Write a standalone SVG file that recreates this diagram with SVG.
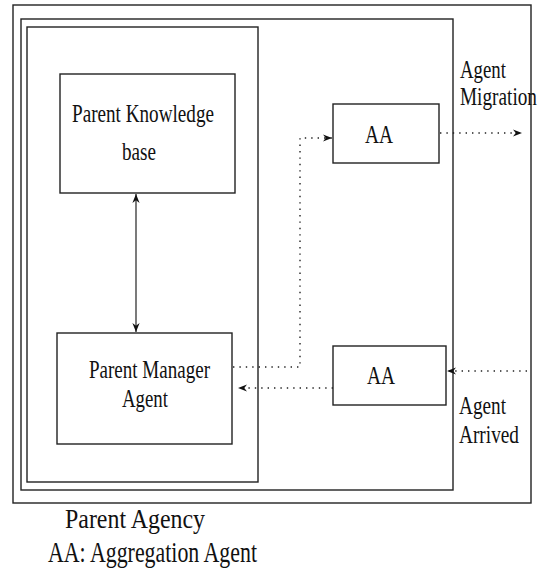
<svg xmlns="http://www.w3.org/2000/svg" width="542" height="575" viewBox="0 0 542 575">
<style>
.box{fill:none;stroke:#222;stroke-width:1.4}
.t{font-family:"Liberation Serif","Times New Roman",serif;fill:#111}
.solid{fill:none;stroke:#222;stroke-width:1.2}
.dot{fill:none;stroke:#222;stroke-width:1.4;stroke-dasharray:1.4 5}
</style>
<defs>
<marker id="ah" viewBox="0 0 10 10" refX="10" refY="5" markerWidth="9" markerHeight="9" markerUnits="userSpaceOnUse" orient="auto-start-reverse">
<path d="M0,1 L10,5 L0,9 L3,5 Z" fill="#111"/>
</marker>
</defs>
<rect width="542" height="575" fill="#fff"/>
<g id="outer"><rect class="box" x="13" y="5" width="518" height="498"/></g>
<g id="agency"><rect class="box" x="21" y="19" width="432" height="471"/></g>
<g id="inner"><rect class="box" x="27" y="27" width="231" height="455"/></g>
<g id="pkb">
<rect class="box" x="60" y="74" width="175" height="119"/>
<text class="t" x="72" y="122" font-size="25" textLength="142" lengthAdjust="spacingAndGlyphs">Parent Knowledge</text>
<text class="t" x="122" y="160" font-size="25" textLength="34" lengthAdjust="spacingAndGlyphs">base</text>
</g>
<g id="pma">
<rect class="box" x="57" y="333" width="175" height="111"/>
<text class="t" x="89" y="378" font-size="25" textLength="121" lengthAdjust="spacingAndGlyphs">Parent Manager</text>
<text class="t" x="122" y="407" font-size="25" textLength="46" lengthAdjust="spacingAndGlyphs">Agent</text>
</g>
<g id="aa1">
<rect class="box" x="333" y="104" width="106" height="59"/>
<text class="t" x="365" y="143" font-size="25" textLength="28" lengthAdjust="spacingAndGlyphs">AA</text>
</g>
<g id="aa2">
<rect class="box" x="333" y="346" width="113" height="59"/>
<text class="t" x="367" y="384" font-size="25" textLength="28" lengthAdjust="spacingAndGlyphs">AA</text>
</g>
<g id="labels">
<text class="t" x="460" y="78" font-size="25" textLength="46" lengthAdjust="spacingAndGlyphs">Agent</text>
<text class="t" x="460" y="105" font-size="25" textLength="77" lengthAdjust="spacingAndGlyphs">Migration</text>
<text class="t" x="459" y="414" font-size="25" textLength="47" lengthAdjust="spacingAndGlyphs">Agent</text>
<text class="t" x="459" y="443" font-size="25" textLength="60" lengthAdjust="spacingAndGlyphs">Arrived</text>
<text class="t" x="65" y="528" font-size="27" textLength="140" lengthAdjust="spacingAndGlyphs">Parent Agency</text>
<text class="t" x="48" y="562" font-size="29" textLength="209" lengthAdjust="spacingAndGlyphs">AA: Aggregation Agent</text>
</g>
<g id="connectors">
<line class="solid" x1="136" y1="194" x2="136" y2="332" marker-start="url(#ah)" marker-end="url(#ah)"/>
<polyline class="dot" points="233,367 300,367 300,138 332,138" marker-end="url(#ah)"/>
<line class="dot" x1="440" y1="133" x2="522" y2="133" marker-end="url(#ah)"/>
<line class="dot" x1="527" y1="371" x2="447" y2="371" marker-end="url(#ah)"/>
<line class="dot" x1="333" y1="388" x2="238" y2="388" marker-end="url(#ah)"/>
</g>
</svg>
